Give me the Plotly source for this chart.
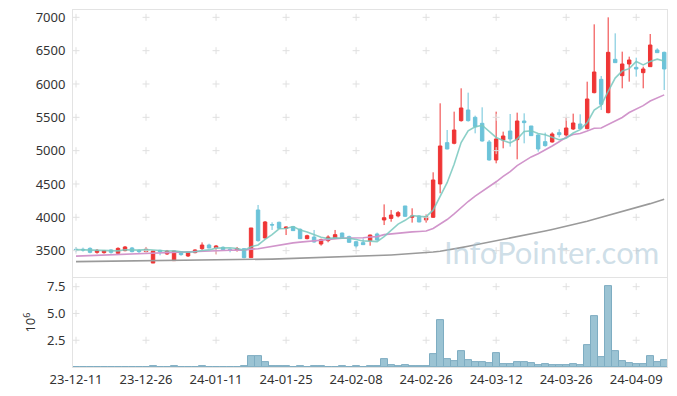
import pandas as pd
import plotly.graph_objects as go

# ---------------- data ----------------
holidays = ["2023-12-25", "2023-12-29", "2024-01-01", "2024-02-09",
            "2024-02-12", "2024-03-01", "2024-04-10"]
dates = [d for d in pd.bdate_range("2023-12-11", "2024-04-16")
         if d.strftime("%Y-%m-%d") not in holidays]
labels = [d.strftime("%y-%m-%d") for d in dates]

open_ = [3520, 3520, 3534, 3474, 3470, 3510, 3460, 3500, 3540, 3505,
         3485, 3314, 3504, 3450, 3350, 3484, 3420, 3470, 3530, 3584,
         3545, 3550, 3520, 3510, 3530, 3395, 4110, 3690, 3890, 3925,
         3834, 3860, 3820, 3680, 3704, 3600, 3650, 3690, 3764, 3710,
         3634, 3620, 3650, 3750, 3960, 3984, 4020, 4170, 4000, 4020,
         3960, 4000, 4500, 5120, 5110, 5450, 5610, 5500, 5410, 5130,
         4860, 5160, 5295, 5165, 5445, 5370, 5235, 5135, 5130, 5270,
         5235, 5325, 5400, 5330, 5870, 6070, 5570, 6370, 6125, 6300,
         6250, 6170, 6260, 6510, 6475]
high = [3555, 3545, 3550, 3524, 3510, 3520, 3550, 3570, 3555, 3520,
        3555, 3494, 3514, 3510, 3494, 3494, 3494, 3520, 3624, 3604,
        3585, 3564, 3535, 3555, 3530, 3840, 4185, 3944, 3925, 3935,
        3864, 3870, 3834, 3739, 3810, 3680, 3730, 3810, 3770, 3725,
        3644, 3684, 3740, 3770, 4194, 4110, 4094, 4170, 4135, 4030,
        4045, 4675, 5710, 5310, 5585, 5935, 5870, 5525, 5650, 5160,
        5585, 5285, 5550, 5570, 5560, 5370, 5245, 5270, 5275, 5320,
        5495, 5555, 5545, 6035, 6895, 6120, 7000, 6760, 6485, 6410,
        6395, 6260, 6750, 6535, 6485]
low = [3475, 3485, 3460, 3454, 3455, 3455, 3450, 3490, 3475, 3460,
       3475, 3314, 3430, 3435, 3350, 3424, 3405, 3460, 3510, 3534,
       3445, 3505, 3475, 3485, 3385, 3395, 3634, 3684, 3810, 3825,
       3734, 3795, 3674, 3670, 3620, 3575, 3625, 3680, 3684, 3615,
       3534, 3584, 3574, 3650, 3884, 3934, 3999, 4004, 3920, 3925,
       3920, 3990, 4360, 5020, 5095, 5435, 5435, 5260, 5135, 4850,
       4810, 5035, 5060, 4870, 5110, 5220, 4985, 5060, 5120, 5200,
       5210, 5310, 5320, 5320, 5860, 5610, 5560, 6320, 5935, 6035,
       6110, 5935, 6260, 6470, 5910]
close = [3510, 3510, 3474, 3504, 3500, 3474, 3534, 3555, 3485, 3485,
         3520, 3494, 3484, 3494, 3494, 3440, 3480, 3510, 3584, 3540,
         3570, 3515, 3510, 3530, 3395, 3840, 3650, 3930, 3885, 3835,
         3854, 3800, 3680, 3724, 3630, 3664, 3704, 3740, 3694, 3625,
         3570, 3590, 3734, 3660, 3994, 4034, 4070, 4015, 4020, 3930,
         4010, 4560, 5070, 5025, 5310, 5640, 5450, 5360, 5145, 4860,
         5175, 5220, 5175, 5445, 5420, 5225, 5025, 5075, 5250, 5240,
         5340, 5415, 5330, 5775, 6180, 5695, 6475, 6320, 6300, 6360,
         6225, 6225, 6585, 6470, 6225]

ma_short = [3515, 3512, 3506, 3503, 3500, 3492, 3497, 3513, 3510, 3507,
            3516, 3508, 3494, 3495, 3497, 3481, 3478, 3484, 3502, 3511,
            3537, 3544, 3544, 3533, 3504, 3558, 3585, 3669, 3740, 3828,
            3831, 3861, 3811, 3779, 3738, 3700, 3680, 3692, 3686, 3685,
            3667, 3644, 3643, 3636, 3710, 3802, 3898, 3955, 4027, 4014,
            4009, 4107, 4318, 4519, 4795, 5121, 5299, 5357, 5381, 5291,
            5198, 5152, 5115, 5175, 5287, 5297, 5258, 5238, 5199, 5163,
            5186, 5264, 5315, 5420, 5608, 5679, 5891, 6089, 6194, 6230,
            6336, 6286, 6339, 6373, 6346]
ma_mid = [3418, 3422, 3426, 3430, 3434, 3440, 3446, 3451, 3456, 3461,
          3466, 3471, 3476, 3480, 3484, 3488, 3492, 3496, 3500, 3504,
          3507, 3507, 3509, 3510, 3505, 3523, 3529, 3548, 3568, 3585,
          3602, 3617, 3627, 3638, 3645, 3656, 3668, 3679, 3685, 3689,
          3689, 3693, 3704, 3710, 3740, 3750, 3771, 3775, 3782, 3787,
          3794, 3832, 3902, 3967, 4051, 4150, 4237, 4318, 4391, 4452,
          4533, 4614, 4686, 4775, 4847, 4906, 4954, 5007, 5069, 5134,
          5201, 5243, 5256, 5294, 5337, 5340, 5391, 5439, 5497, 5572,
          5625, 5675, 5745, 5797, 5837]
ma_long = [3335, 3336, 3337, 3337, 3338, 3339, 3340, 3341, 3342, 3343,
           3344, 3345, 3346, 3347, 3348, 3349, 3350, 3351, 3352, 3354,
           3355, 3356, 3358, 3359, 3360, 3363, 3366, 3370, 3373, 3376,
           3379, 3382, 3385, 3388, 3391, 3394, 3397, 3401, 3405, 3409,
           3413, 3417, 3421, 3425, 3430, 3435, 3441, 3447, 3453, 3459,
           3470, 3480, 3492, 3507, 3525, 3545, 3565, 3585, 3605, 3625,
           3645, 3665, 3685, 3705, 3727, 3750, 3772, 3795, 3818, 3841,
           3865, 3890, 3915, 3942, 3970, 3998, 4026, 4055, 4085, 4115,
           4145, 4175, 4205, 4238, 4270]

volume_m = [0.02, 0.01, 0.03, 0.02, 0.01, 0.02, 0.03, 0.02, 0.01, 0.02,
            0.03, 0.10, 0.02, 0.03, 0.04, 0.02, 0.03, 0.02, 0.04, 0.03,
            0.02, 0.03, 0.02, 0.02, 0.05, 1.02, 1.02, 0.46, 0.10, 0.10,
            0.10, 0.03, 0.04, 0.03, 0.10, 0.10, 0.03, 0.02, 0.04, 0.03,
            0.09, 0.03, 0.04, 0.09, 0.74, 0.19, 0.10, 0.15, 0.10, 0.10,
            0.10, 1.21, 4.37, 0.74, 0.56, 1.49, 0.65, 0.46, 0.46, 0.37,
            1.30, 0.28, 0.28, 0.46, 0.46, 0.37, 0.19, 0.28, 0.19, 0.19,
            0.19, 0.28, 0.19, 2.04, 4.74, 0.93, 7.55, 1.52, 0.56, 0.37,
            0.28, 0.28, 1.02, 0.46, 0.65]

price_ticks = [3500, 4000, 4500, 5000, 5500, 6000, 6500, 7000]
volume_ticks = [2.5, 5.0, 7.5]
tick_every = 10

# ---------------- styles ----------------
UP = "#EF3535"
DOWN = "#6CC3D9"
FONT = "Noto Sans"
FRAME = "#E3E3E3"

xtick_labels = labels[::tick_every]

fig = go.Figure()

# grid crosses at tick intersections
gx, gy = [], []
for xl in xtick_labels:
    for yv in price_ticks:
        gx.append(xl); gy.append(yv)
fig.add_trace(go.Scatter(x=gx, y=gy, mode="markers", xaxis="x", yaxis="y",
                         marker=dict(symbol="cross-thin", size=5,
                                     line=dict(color="#E0E0E0", width=1)),
                         hoverinfo="skip", showlegend=False))
vx, vy = [], []
for xl in xtick_labels:
    for yv in volume_ticks:
        vx.append(xl); vy.append(yv)
fig.add_trace(go.Scatter(x=vx, y=vy, mode="markers", xaxis="x2", yaxis="y2",
                         marker=dict(symbol="cross-thin", size=5,
                                     line=dict(color="#E0E0E0", width=1)),
                         hoverinfo="skip", showlegend=False))

fig.add_trace(go.Scatter(x=labels, y=ma_long, mode="lines", xaxis="x", yaxis="y",
                         line=dict(color="#9A9A9A", width=1.6), showlegend=False))
fig.add_trace(go.Scatter(x=labels, y=ma_mid, mode="lines", xaxis="x", yaxis="y",
                         line=dict(color="#D195CB", width=1.6), showlegend=False))

fig.add_trace(go.Candlestick(
    x=labels, open=open_, high=high, low=low, close=close,
    xaxis="x", yaxis="y",
    increasing=dict(line=dict(color=UP, width=1), fillcolor=UP),
    decreasing=dict(line=dict(color=DOWN, width=1), fillcolor=DOWN),
    whiskerwidth=0, showlegend=False))

fig.add_trace(go.Scatter(x=labels, y=ma_short, mode="lines", xaxis="x", yaxis="y",
                         line=dict(color="rgba(120,200,190,0.85)", width=1.6),
                         showlegend=False))

fig.add_trace(go.Bar(x=labels, y=volume_m, xaxis="x2", yaxis="y2",
                     marker=dict(color="#9BC3D3", line=dict(color="#7EADC2", width=1)),
                     showlegend=False))

# the page body adds an 8px offset; size the figure so the plot lands in place
xr = [-0.43, 84.4]
fig.update_layout(
    width=669, height=388,
    margin=dict(l=65, r=10, t=2, b=29, autoexpand=False),
    paper_bgcolor="white", plot_bgcolor="white",
    font=dict(family=FONT, size=13, color="#333333"),
    bargap=0, boxgap=0.3,
    xaxis=dict(type="category", categoryorder="array", categoryarray=labels,
               range=xr, domain=[0, 1], anchor="y", matches="x2",
               showgrid=False, showticklabels=False, ticks="",
               showline=True, linecolor=FRAME, mirror=True, automargin=False,
               rangeslider=dict(visible=False), zeroline=False),
    yaxis=dict(domain=[0.252, 1], range=[3104, 7110], anchor="x",
               tickvals=price_ticks, showgrid=False, zeroline=False,
               showline=True, linecolor=FRAME, mirror=True, ticks="",
               ticklabelstandoff=4, automargin=False,
               ticklabeloverflow="allow"),
    xaxis2=dict(type="category", categoryorder="array", categoryarray=labels,
                range=xr, domain=[0, 1], anchor="y2",
                tickvals=xtick_labels, ticktext=xtick_labels,
                showgrid=False, ticks="", showline=True, linecolor=FRAME,
                mirror=True, zeroline=False, automargin=False,
                ticklabeloverflow="allow"),
    yaxis2=dict(domain=[0, 0.249], range=[0, 8.3], anchor="x2",
                tickvals=volume_ticks, tickformat=".1f",
                showgrid=False, zeroline=False, showline=True,
                linecolor=FRAME, mirror=True, ticks="", ticklabelstandoff=4,
                automargin=False, ticklabeloverflow="allow",
                title=dict(text="10<sup>6</sup>", standoff=8,
                           font=dict(size=13))),
    annotations=[dict(text="InfoPointer.com", xref="paper", yref="paper",
                      x=0.99, y=0.262, xanchor="right", yanchor="bottom",
                      showarrow=False,
                      font=dict(family="Lato", size=31,
                                color="rgba(165,195,212,0.55)"))],
)

fig.write_html("out.html")
